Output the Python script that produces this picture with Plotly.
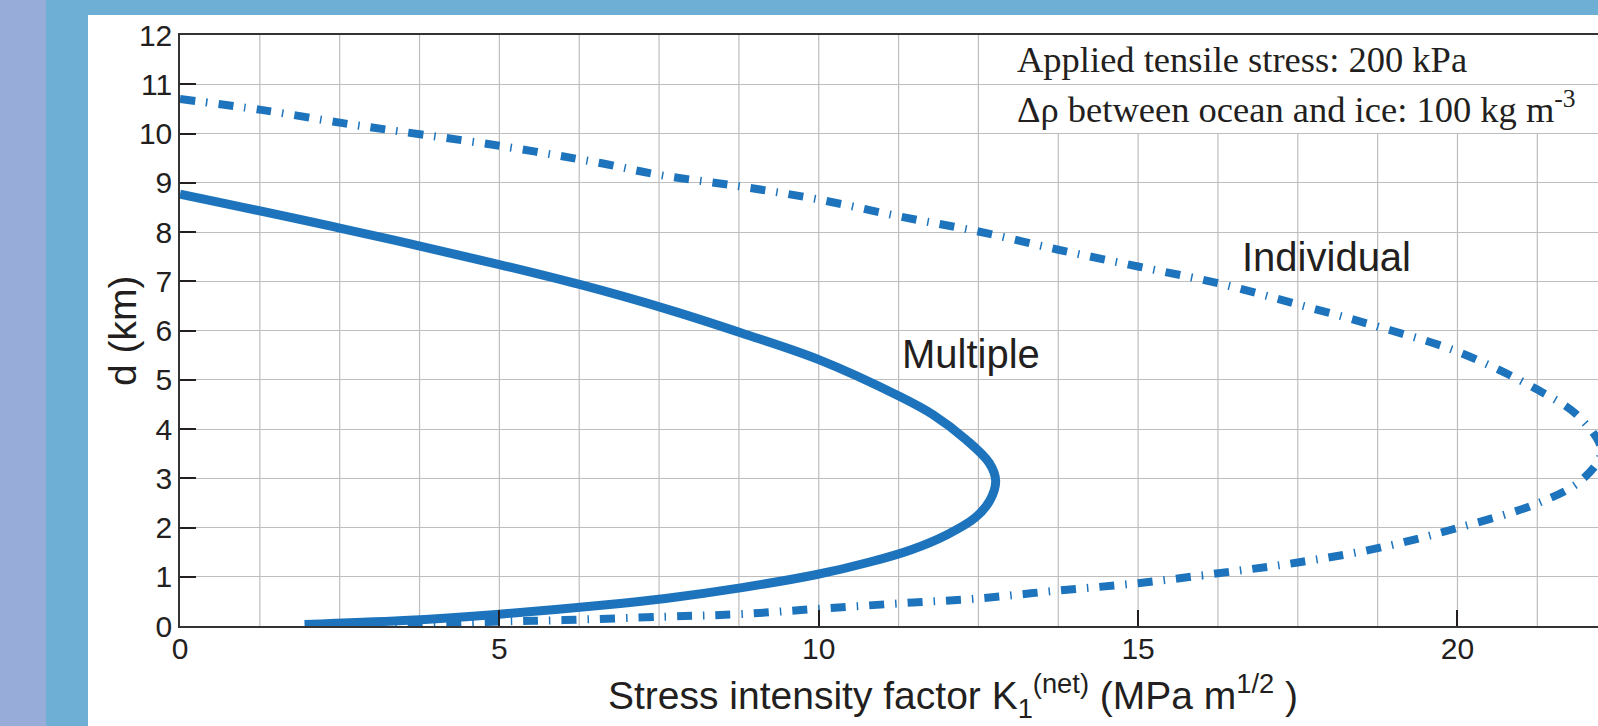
import plotly.graph_objects as go

# ---------------- data ----------------
multiple_k = [0.0, 2.5, 5.0, 6.27, 7.66, 8.79, 10.0, 11.27, 11.79, 12.31, 12.67, 12.77,
              12.68, 12.45, 12.0, 11.45, 10.8, 9.95, 8.8, 7.6, 6.6, 5.0, 3.5, 1.95]
multiple_d = [8.77, 8.08, 7.34, 6.93, 6.42, 5.95, 5.41, 4.66, 4.29, 3.78, 3.31, 2.95,
              2.55, 2.2, 1.85, 1.55, 1.30, 1.04, 0.78, 0.56, 0.42, 0.24, 0.11, 0.03]

individual_k = [0.0, 1.27, 2.55, 3.45, 5.0, 6.58, 7.5, 8.75, 10.0, 11.25, 12.5, 13.75,
                15.0, 16.25, 17.5, 18.75, 20.0, 21.25, 21.9, 22.25, 21.95, 21.25, 20.0,
                18.75, 17.5, 16.25, 15.0, 13.75, 12.5, 11.27, 10.0, 8.75, 7.6, 6.0, 5.0, 3.2]
individual_d = [10.70, 10.48, 10.21, 10.04, 9.75, 9.40, 9.16, 8.93, 8.66, 8.32, 8.01, 7.64,
                7.30, 6.96, 6.53, 6.08, 5.57, 4.80, 4.25, 3.55, 2.97, 2.49, 1.99,
                1.58, 1.29, 1.07, 0.87, 0.72, 0.56, 0.46, 0.35, 0.24, 0.19, 0.12, 0.09, 0.0]

x_tickvals = [0, 5, 10, 15, 20]
y_tickvals = [0, 1, 2, 3, 4, 5, 6, 7, 8, 9, 10, 11, 12]

series_labels = ["Multiple", "Individual"]
note_lines = ["Applied tensile stress: 200 kPa",
              "\u0394\u03c1 between ocean and ice: 100 kg m<sup>-3</sup>"]
x_title = "Stress intensity factor K<sub>1</sub><sup>(net)</sup> (MPa m<sup>1/2</sup> )"
y_title = "d (km)"

# ---------------- layout geometry ----------------
W, H = 1598, 726
ML, MR, MT, MB = 180, 0, 35, 100
PW, PH = W - ML - MR, H - MT - MB
XMAX = 22.2


def px_x(p):
    return (p - ML) / PW


def px_y(p):
    return (H - MB - p) / PH


LINE_COLOR = "#1d74bc"
TEXT_COLOR = "#231f20"
GRID_COLOR = "#bdbdbd"
SANS = "Liberation Sans, Arial, sans-serif"
SERIF = "Liberation Serif, Times New Roman, serif"

fig = go.Figure()

fig.add_trace(go.Scatter(
    x=individual_k, y=individual_d, mode="lines", name=series_labels[1],
    line=dict(color=LINE_COLOR, width=8, dash="15px,11px,1.5px,11px",
              shape="spline", smoothing=1.0),
    hoverinfo="skip", showlegend=False))

fig.add_trace(go.Scatter(
    x=multiple_k, y=multiple_d, mode="lines", name=series_labels[0],
    line=dict(color=LINE_COLOR, width=9, shape="spline", smoothing=1.0),
    hoverinfo="skip", showlegend=False))

shapes = []
# background strips around the white panel
shapes.append(dict(type="rect", xref="paper", yref="paper", layer="below",
                   x0=px_x(0), x1=px_x(88), y0=px_y(H), y1=px_y(0),
                   fillcolor="#6eafd5", line=dict(width=0)))
shapes.append(dict(type="rect", xref="paper", yref="paper", layer="below",
                   x0=px_x(0), x1=px_x(W), y0=px_y(15), y1=px_y(0),
                   fillcolor="#6eafd5", line=dict(width=0)))
shapes.append(dict(type="rect", xref="paper", yref="paper", layer="below",
                   x0=px_x(0), x1=px_x(46), y0=px_y(H), y1=px_y(0),
                   fillcolor="#97acd9", line=dict(width=0)))

# vertical grid lines every 1.25 (hidden behind the note box in the upper right)
g = 1.25
while g < XMAX:
    top = 10 if g > 13 else 12
    shapes.append(dict(type="line", xref="x", yref="y", layer="below",
                       x0=g, x1=g, y0=0, y1=top,
                       line=dict(color=GRID_COLOR, width=1.2)))
    g += 1.25

annotations = [
    dict(x=12.38, y=5.52, xref="x", yref="y", text=series_labels[0], showarrow=False,
         xanchor="center", yanchor="middle", font=dict(family=SANS, size=40, color=TEXT_COLOR)),
    dict(x=17.95, y=7.5, xref="x", yref="y", text=series_labels[1], showarrow=False,
         xanchor="center", yanchor="middle", font=dict(family=SANS, size=40, color=TEXT_COLOR)),
    dict(x=13.08, y=11.51, xref="x", yref="y", text=note_lines[0], showarrow=False,
         xanchor="left", yanchor="middle", font=dict(family=SERIF, size=36.5, color=TEXT_COLOR)),
    dict(x=13.08, y=10.54, xref="x", yref="y", text=note_lines[1], showarrow=False,
         xanchor="left", yanchor="middle", font=dict(family=SERIF, size=36.5, color=TEXT_COLOR)),
    dict(x=px_x(953), y=px_y(696), xref="paper", yref="paper", text=x_title, showarrow=False,
         xanchor="center", yanchor="middle", font=dict(family=SANS, size=39, color=TEXT_COLOR)),
    dict(x=px_x(122), y=px_y(331), xref="paper", yref="paper", text=y_title, showarrow=False,
         textangle=-90, xanchor="center", yanchor="middle",
         font=dict(family=SANS, size=39, color=TEXT_COLOR)),
]

fig.update_layout(
    width=W, height=H,
    margin=dict(l=ML, r=MR, t=MT, b=MB, pad=0),
    paper_bgcolor="white", plot_bgcolor="white",
    shapes=shapes, annotations=annotations,
    xaxis=dict(range=[0, XMAX], tickvals=x_tickvals, ticks="inside", ticklen=16,
               tickwidth=1.5, tickcolor=TEXT_COLOR, showline=True, linecolor="#333333",
               linewidth=1.5, mirror=True, showgrid=False, zeroline=False,
               ticklabelstandoff=-5,
               tickfont=dict(family=SANS, size=30, color=TEXT_COLOR)),
    yaxis=dict(range=[0, 12], tickvals=y_tickvals, ticks="inside", ticklen=16,
               tickwidth=1.5, tickcolor=TEXT_COLOR, showline=True, linecolor="#333333",
               linewidth=1.5, mirror=False, showgrid=True, gridcolor=GRID_COLOR,
               gridwidth=1.2, zeroline=False,
               tickfont=dict(family=SANS, size=30, color=TEXT_COLOR)),
)

fig.write_html("out.html")
